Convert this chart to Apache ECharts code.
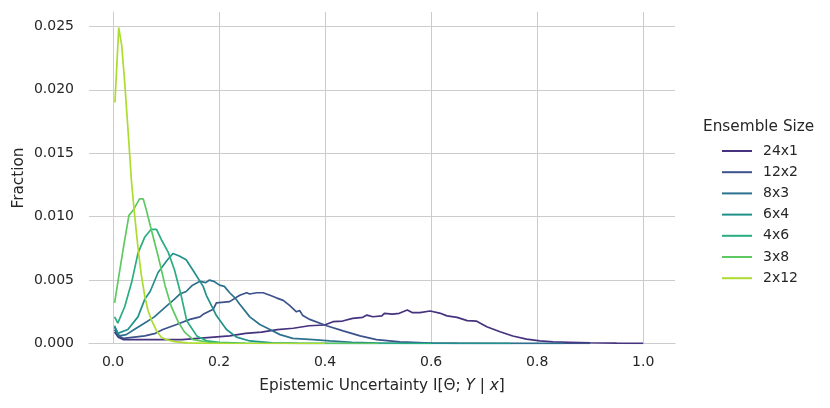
<!DOCTYPE html>
<html lang="en">

<head>
    <meta charset="UTF-8">
    <title>Epistemic Uncertainty by Ensemble Size</title>
    <script type="text/javascript" src="https://cdn.jsdelivr.net/npm/echarts@6/dist/echarts.min.js"></script>
    <style>
        html, body {
            margin: 0;
            padding: 0;
            background: #ffffff;
        }

        #main {
            width: 830px;
            height: 408px;
        }
    </style>
</head>

<body>
    <div id="main"></div>

    <script type="text/javascript">
        // legend / series names, in draw order
        var sizeNames = ['24x1', '12x2', '8x3', '6x4', '4x6', '3x8', '2x12'];
        var sizeColors = ['#46327e', '#3b528b', '#2c728e', '#21918c', '#28ae80', '#5ec962', '#addc30'];

        // values (x = uncertainty, y = fraction)
        var x24x1 = [0.003, 0.01, 0.02, 0.04, 0.07, 0.10, 0.13, 0.16, 0.19, 0.22, 0.25, 0.28, 0.31, 0.34, 0.37,
            0.399, 0.415, 0.433, 0.452, 0.471, 0.479, 0.490, 0.507, 0.512, 0.527, 0.540, 0.555, 0.565, 0.579,
            0.598, 0.616, 0.630, 0.649, 0.668, 0.686, 0.705, 0.730, 0.754, 0.780, 0.805, 0.83, 0.86, 0.90, 0.95, 1.0];
        var y24x1 = [0.0009, 0.0005, 0.0003, 0.0003, 0.0003, 0.0003, 0.0003, 0.0004, 0.0005, 0.0006, 0.0008, 0.0009,
            0.0011, 0.0012, 0.0014, 0.00146, 0.00172, 0.00177, 0.00198, 0.00206, 0.00224, 0.00211, 0.00217, 0.00238,
            0.00232, 0.00238, 0.00264, 0.00243, 0.00243, 0.00256, 0.0024, 0.00218, 0.00206, 0.00180, 0.00176,
            0.00132, 0.00093, 0.00059, 0.00035, 0.0002, 0.00013, 0.0001, 0.00006, 0.00003, 0.00001];

        var x12x2 = [0.003, 0.01, 0.02, 0.04, 0.06, 0.08, 0.094, 0.12, 0.145, 0.164, 0.17, 0.189, 0.195, 0.22,
            0.239, 0.252, 0.258, 0.271, 0.283, 0.296, 0.308, 0.321, 0.333, 0.346, 0.352, 0.358, 0.371, 0.403,
            0.434, 0.466, 0.497, 0.541, 0.6, 0.65, 0.9];
        var y12x2 = [0.0011, 0.0006, 0.0004, 0.0005, 0.0006, 0.0008, 0.0011, 0.0015, 0.0019, 0.0021, 0.0023,
            0.0027, 0.0032, 0.0033, 0.0038, 0.0040, 0.0039, 0.0040, 0.0040, 0.0038, 0.0036, 0.0034, 0.0030,
            0.0025, 0.0026, 0.0022, 0.0019, 0.0014, 0.0010, 0.0006, 0.0003, 0.00013, 0.00004, 0.00001, 0];

        var x8x3 = [0.003, 0.012, 0.025, 0.04, 0.059, 0.078, 0.097, 0.116, 0.126, 0.138, 0.15, 0.164, 0.175,
            0.182, 0.19, 0.201, 0.21, 0.22, 0.23, 0.239, 0.258, 0.277, 0.296, 0.315, 0.339, 0.377, 0.409, 0.45,
            0.5, 0.85];
        var y8x3 = [0.0013, 0.0006, 0.0007, 0.0011, 0.0016, 0.0021, 0.0028, 0.0035, 0.0039, 0.0041, 0.0046,
            0.0049, 0.0048, 0.0050, 0.0049, 0.0046, 0.0045, 0.0040, 0.0036, 0.0031, 0.0021, 0.0015, 0.0011,
            0.0007, 0.0004, 0.0003, 0.0002, 0.0001, 0.00003, 0];

        var x6x4 = [0.003, 0.009, 0.028, 0.047, 0.060, 0.070, 0.085, 0.101, 0.113, 0.125, 0.138, 0.152, 0.17,
            0.176, 0.189, 0.195, 0.214, 0.233, 0.258, 0.3, 0.35, 0.75];
        var y6x4 = [0.0014, 0.0008, 0.0011, 0.0021, 0.0035, 0.0041, 0.0056, 0.0065, 0.0071, 0.0069, 0.0066,
            0.0057, 0.0045, 0.0038, 0.0027, 0.0022, 0.0011, 0.0005, 0.0002, 0.00005, 0.00001, 0];

        var x4x6 = [0.003, 0.009, 0.022, 0.035, 0.047, 0.060, 0.072, 0.082, 0.091, 0.104, 0.116, 0.129, 0.139,
            0.158, 0.177, 0.2, 0.25, 0.6];
        var y4x6 = [0.0021, 0.0016, 0.0029, 0.0048, 0.0071, 0.0084, 0.0090, 0.0090, 0.0082, 0.0072, 0.0058,
            0.0037, 0.0018, 0.0006, 0.0002, 0.0001, 0.00002, 0];

        var x3x8 = [0.003, 0.009, 0.019, 0.030, 0.038, 0.050, 0.057, 0.063, 0.072, 0.085, 0.098, 0.110, 0.123,
            0.135, 0.151, 0.18, 0.22, 0.5];
        var y3x8 = [0.0032, 0.0048, 0.0074, 0.0101, 0.0105, 0.0114, 0.0114, 0.0105, 0.0090, 0.0069, 0.0046,
            0.0029, 0.0017, 0.0009, 0.0003, 0.0001, 0.00002, 0];

        var x2x12 = [0.0036, 0.0108, 0.0164, 0.022, 0.0285, 0.035, 0.041, 0.047, 0.053, 0.060, 0.066, 0.072,
            0.082, 0.091, 0.101, 0.116, 0.14, 0.18, 0.4];
        var y2x12 = [0.0190, 0.0249, 0.0235, 0.0206, 0.0167, 0.0127, 0.0100, 0.0076, 0.0055, 0.0037, 0.0026,
            0.0019, 0.0010, 0.0005, 0.0003, 0.00015, 0.00005, 0.00001, 0];

        var xTicks = [0.0, 0.2, 0.4, 0.6, 0.8, 1.0];
        var yTicks = [0.000, 0.005, 0.010, 0.015, 0.020, 0.025];

        var xsList = [x24x1, x12x2, x8x3, x6x4, x4x6, x3x8, x2x12];
        var ysList = [y24x1, y12x2, y8x3, y6x4, y4x6, y3x8, y2x12];

        var textColor = '#262626';
        var gridColor = '#cccccc';
        var fontFam = 'DejaVu Sans';

        var myChart = echarts.init(document.getElementById('main'), null, { renderer: 'canvas' });

        var seriesList = [];
        for (var i = 0; i < sizeNames.length; i++) {
            var pts = [];
            for (var j = 0; j < xsList[i].length; j++) {
                pts.push([xsList[i][j], ysList[i][j]]);
            }
            seriesList.push({
                name: sizeNames[i],
                type: 'line',
                showSymbol: false,
                symbol: 'none',
                smooth: false,
                animation: false,
                lineStyle: { color: sizeColors[i], width: 1.7 },
                itemStyle: { color: sizeColors[i] },
                data: pts
            });
        }

        var option = {
            backgroundColor: '#ffffff',
            animation: false,
            textStyle: { fontFamily: fontFam },
            grid: {
                left: 89,
                right: 155,
                top: 12,
                bottom: 64.5,
                containLabel: false
            },
            graphic: [{
                type: 'text',
                left: 703,
                top: 120,
                style: {
                    text: 'Ensemble Size',
                    fill: textColor,
                    font: '15.3px "DejaVu Sans"'
                }
            }, {
                // y axis title
                type: 'text',
                x: 19,
                y: 178,
                rotation: Math.PI / 2,
                style: {
                    text: 'Fraction',
                    fill: textColor,
                    font: '15.3px "DejaVu Sans"',
                    align: 'center',
                    verticalAlign: 'middle'
                }
            }],
            legend: {
                orient: 'vertical',
                left: 722,
                top: 143,
                padding: 0,
                icon: 'rect',
                itemWidth: 30,
                itemHeight: 2,
                itemGap: 5.2,
                data: sizeNames,
                textStyle: {
                    color: textColor,
                    fontSize: 14,
                    fontFamily: fontFam,
                    lineHeight: 16,
                    padding: [0, 0, 0, 6]
                }
            },
            xAxis: {
                type: 'value',
                min: -0.0453,
                max: 1.06,
                name: '{a|Epistemic Uncertainty I[Θ; }{i|Y}{a| | }{i|x}{a|]}',
                nameLocation: 'middle',
                nameGap: 35,
                nameTextStyle: {
                    rich: {
                        a: { fontSize: 15.3, color: textColor, fontFamily: fontFam },
                        i: { fontSize: 15.3, color: textColor, fontFamily: fontFam, fontStyle: 'italic' }
                    }
                },
                axisLine: { show: true, lineStyle: { color: gridColor, width: 1 } },
                axisTick: { show: false, customValues: xTicks },
                axisLabel: {
                    customValues: xTicks,
                    color: textColor,
                    fontSize: 14,
                    margin: 12,
                    formatter: function (v) { return v.toFixed(1); }
                },
                splitLine: { show: true, lineStyle: { color: gridColor, width: 1 } }
            },
            yAxis: {
                type: 'value',
                min: 0,
                max: 0.02613,
                axisLine: { show: true, lineStyle: { color: gridColor, width: 1 } },
                axisTick: { show: false, customValues: yTicks },
                axisLabel: {
                    customValues: yTicks,
                    color: textColor,
                    fontSize: 14,
                    margin: 15,
                    formatter: function (v) { return v.toFixed(3); }
                },
                splitLine: { show: true, lineStyle: { color: gridColor, width: 1 } }
            },
            series: seriesList
        };

        myChart.setOption(option);
        window.addEventListener('resize', function () {
            myChart.resize();
        });
    </script>
</body>

</html>
